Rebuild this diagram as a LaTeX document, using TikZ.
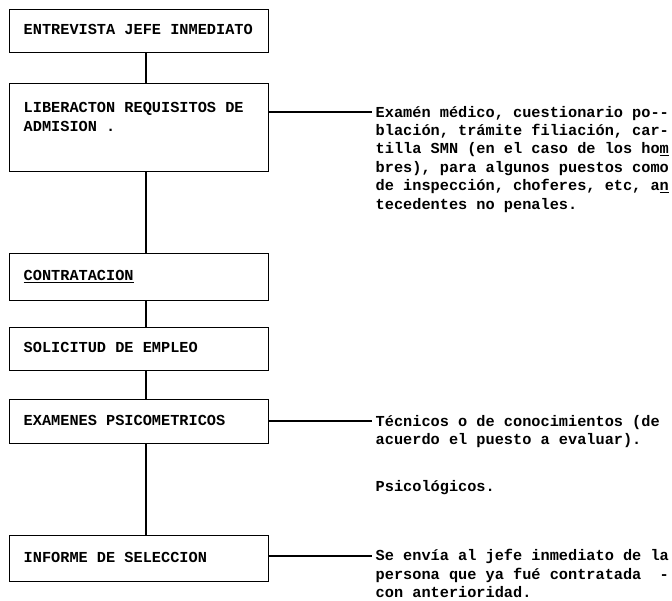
\documentclass[tikz,border=0pt]{standalone}
\usepackage{fontspec}
\newfontfamily\twfamily[WordSpace={1,0,0}]{Liberation Mono}
\newcommand\twfont{\twfamily\fontsize{15.27}{18.4}\selectfont\bfseries\spaceskip=9.162pt\relax\xspaceskip=9.162pt\relax}
\begin{document}
\begin{tikzpicture}[x=1pt,y=-1pt,line width=1.4pt,
  flowbox/.style={draw,anchor=north west,minimum width=259pt,text width=231pt,
    inner xsep=14pt,inner ysep=0pt,align=left,font=\twfont,
    execute at begin node={\spaceskip=9.162pt\relax\xspaceskip=9.162pt\relax}},
  note/.style={anchor=north west,inner sep=0pt,align=left,font=\twfont}]
\useasboundingbox (0,0) rectangle (672,601);
\coordinate (spine) at (146,0);
\node[flowbox,minimum height=43pt] (b1) at (9,9) {\strut ENTREVISTA JEFE INMEDIATO};
\node[flowbox,minimum height=88pt] (b2) at (9,83) {\strut LIBERACTON REQUISITOS DE\\ADMISION .\\\strut};
\node[flowbox,minimum height=47pt] (b3) at (9,253) {\strut\underline{CONTRATACION}};
\node[flowbox,minimum height=43pt] (b4) at (9,327) {\strut SOLICITUD DE EMPLEO};
\node[flowbox,minimum height=44pt] (b5) at (9,399) {\strut EXAMENES PSICOMETRICOS};
\node[flowbox,minimum height=46pt] (b6) at (9,535) {\strut INFORME DE SELECCION};
\draw (b1.south -| spine) -- (b2.north -| spine);
\draw (b2.south -| spine) -- (b3.north -| spine);
\draw (b3.south -| spine) -- (b4.north -| spine);
\draw (b4.south -| spine) -- (b5.north -| spine);
\draw (b5.south -| spine) -- (b6.north -| spine);
\node[note] (t1) at (375,103.6) {\strut Examén médico, cuestionario po-{}-\\blación, trámite filiación, car-\\tilla SMN (en el caso de los ho\underline{m}\\bres), para algunos puestos como\\de inspección, choferes, etc, a\underline{n}\\tecedentes no penales.};
\node[note] (t2) at (375,412.6) {\strut Técnicos o de conocimientos (de\\acuerdo el puesto a evaluar).};
\node[note] (t3) at (375,477.6) {\strut Psicológicos.};
\node[note] (t4) at (375,547.3) {\strut Se envía al jefe inmediato de la\\persona que ya fué contratada\ \ -\\con anterioridad.};
\coordinate (e1) at (372,112);
\coordinate (e2) at (372,421);
\coordinate (e4) at (372,556);
\draw (b2.east |- e1) -- (e1);
\draw (b5.east |- e2) -- (e2);
\draw (b6.east |- e4) -- (e4);
\end{tikzpicture}
\end{document}
